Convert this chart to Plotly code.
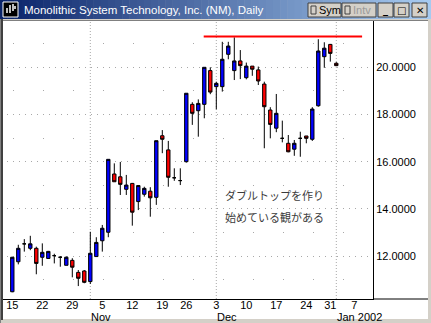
import plotly.graph_objects as go

# ---------------- data (Monolithic System Technology, daily, Oct 15 2001 - Jan 2 2002)
opens  = [10.49, 11.76, 12.52, 12.33, 12.33, 11.95, 11.90, 12.02, 11.95, 11.61,
          11.82, 11.31, 11.37, 10.92, 11.98, 12.65, 13.01, 15.48, 15.36, 14.83,
          15.08, 14.31, 14.62, 14.75, 14.49, 17.10, 16.50, 15.32, 15.20, 16.00,
          18.43, 18.16, 18.43, 19.86, 19.18, 19.18, 20.55, 19.86, 20.27, 19.56,
          20.05, 19.89, 19.29, 18.19, 17.42, 16.99, 16.78, 16.53, 16.99, 17.09,
          16.95, 18.37, 20.45, 20.97, 20.17]
highs  = [11.97, 12.48, 12.72, 12.86, 12.40, 12.54, 12.22, 12.10, 12.00, 11.99,
          11.91, 11.41, 11.41, 13.03, 12.80, 13.32, 16.10, 15.93, 15.99, 15.44,
          15.10, 15.00, 14.94, 14.92, 16.89, 17.34, 16.88, 15.72, 15.72, 18.90,
          18.52, 18.64, 20.00, 20.00, 19.39, 21.08, 21.08, 21.27, 20.73, 20.20,
          20.05, 20.03, 19.39, 18.31, 18.87, 17.74, 17.13, 16.92, 17.27, 17.09,
          18.31, 21.19, 21.06, 20.99, 20.22]
lows   = [10.47, 11.65, 12.19, 12.25, 11.23, 11.59, 11.88, 11.69, 11.55, 11.61,
          11.10, 10.73, 10.85, 10.82, 11.98, 12.19, 12.80, 15.15, 14.59, 14.59,
          13.29, 13.95, 14.52, 13.67, 14.17, 16.36, 14.94, 15.19, 15.01, 15.96,
          17.56, 17.06, 17.84, 18.86, 18.22, 18.97, 20.34, 19.46, 19.50, 19.49,
          19.64, 19.25, 16.57, 16.99, 17.25, 16.82, 16.40, 16.25, 16.21, 16.78,
          16.88, 18.33, 19.98, 20.24, 20.05]
closes = [11.95, 12.33, 12.52, 12.52, 11.69, 12.16, 12.20, 12.02, 11.95, 11.95,
          11.53, 11.06, 10.89, 12.12, 12.58, 13.18, 16.10, 15.15, 15.04, 15.01,
          13.86, 14.99, 14.87, 14.47, 16.89, 16.95, 15.34, 15.32, 15.20, 18.90,
          18.05, 18.47, 20.00, 18.95, 19.32, 20.34, 20.90, 20.27, 20.07, 20.05,
          19.92, 19.42, 18.33, 17.58, 18.05, 16.99, 16.42, 16.78, 16.99, 16.99,
          18.23, 20.69, 20.81, 20.59, 20.07]
x_idx = list(range(len(opens)))          # trading-day index

tick_index = [0, 5, 10, 15, 20, 25, 29, 34, 39, 44, 49, 53, 57]
tick_text  = ["15", "22", "29", "5", "12", "19", "26", "3", "10", "17", "24", "31", "7"]
month_index = [13, 34, 54]
month_text  = ["Nov", "Dec", "Jan 2002"]
price_ticks = [12, 14, 16, 18, 20]

resistance_level = 21.30
resistance_from, resistance_to = 31.9, 58.3
note_lines = ["ダブルトップを作り", "始めている観がある"]
title_text = "Monolithic System Technology, Inc. (NM), Daily"

# ---------------- geometry helpers (pixels -> paper)
W, H = 431, 323
PL, PR, PT, PB = 3, 373, 21, 299
def px(x): return (x - PL) / (PR - PL)
def py(y): return (PB - y) / (PB - PT)

fig = go.Figure()
fig.add_trace(go.Candlestick(
    x=x_idx, open=opens, high=highs, low=lows, close=closes,
    increasing=dict(fillcolor="#0000FF", line=dict(color="black", width=1)),
    decreasing=dict(fillcolor="#FF0000", line=dict(color="black", width=1)),
    whiskerwidth=0, hoverinfo="skip", showlegend=False))

shapes = []
# window frame: white client area
shapes.append(dict(type="rect", xref="paper", yref="paper", x0=px(3), x1=px(428),
                   y0=py(319), y1=py(20), fillcolor="white", line_width=0, layer="below"))
# left dark border
shapes.append(dict(type="rect", xref="paper", yref="paper", x0=px(0), x1=px(1),
                   y0=py(323), y1=py(19), fillcolor="#808080", line_width=0, layer="below"))
shapes.append(dict(type="rect", xref="paper", yref="paper", x0=px(1), x1=px(3),
                   y0=py(320), y1=py(19), fillcolor="#404040", line_width=0, layer="below"))
# top border of chart area
shapes.append(dict(type="line", xref="paper", yref="paper", x0=px(3), x1=px(428),
                   y0=py(20.5), y1=py(20.5), line=dict(color="#808080", width=1)))
# title-bar gradient
n = 60
c0, c1 = (10, 36, 106), (166, 202, 240)
for i in range(n):
    t = i / (n - 1)
    col = "rgb(%d,%d,%d)" % tuple(round(a + (b - a) * t) for a, b in zip(c0, c1))
    shapes.append(dict(type="rect", xref="paper", yref="paper",
                       x0=px(W * i / n), x1=px(W * (i + 1) / n + 0.5),
                       y0=py(19), y1=py(0), fillcolor=col, line_width=0))
# icon
shapes.append(dict(type="rect", xref="paper", yref="paper", x0=px(3), x1=px(18),
                   y0=py(17), y1=py(2), fillcolor="black", line=dict(color="white", width=1)))
for xx, yy0, yy1 in [(7, 13, 8), (10, 13, 5), (13, 11, 4), (15, 9, 6)]:
    shapes.append(dict(type="line", xref="paper", yref="paper", x0=px(xx), x1=px(xx),
                       y0=py(yy0), y1=py(yy1), line=dict(color="white", width=1.5)))
# buttons
buttons = [(308, 341), (342, 376), (378, 393), (394, 409), (412, 427)]
for b0, b1 in buttons:
    shapes.append(dict(type="rect", xref="paper", yref="paper", x0=px(b0), x1=px(b1),
                       y0=py(17), y1=py(3), fillcolor="#D4D0C8",
                       line=dict(color="#404040", width=1)))
for b0 in (310, 344):
    shapes.append(dict(type="rect", xref="paper", yref="paper", x0=px(b0 + 1), x1=px(b0 + 6),
                       y0=py(14), y1=py(6), fillcolor="#D4D0C8",
                       line=dict(color="#404040", width=1)))
# month separator lines
for mi in month_index:
    shapes.append(dict(type="line", xref="x", yref="paper", x0=mi, x1=mi, y0=0, y1=1,
                       line=dict(color="#A8A8A8", width=1, dash="1px,2px"), layer="below"))
# bottom axis line extension into label area
shapes.append(dict(type="line", xref="paper", yref="paper", x0=px(PR), x1=px(428),
                   y0=0, y1=0, line=dict(color="black", width=1)))
# resistance line
shapes.append(dict(type="line", xref="x", yref="y", x0=resistance_from, x1=resistance_to,
                   y0=resistance_level, y1=resistance_level, line=dict(color="#FF0000", width=2)))

ann = []
ann.append(dict(xref="paper", yref="paper", x=px(22), y=py(10), text=title_text,
                showarrow=False, xanchor="left", yanchor="middle",
                font=dict(family="Liberation Sans", size=11.5, color="white")))
ann.append(dict(xref="paper", yref="paper", x=px(317), y=py(10), text="Sym",
                showarrow=False, xanchor="left", yanchor="middle",
                font=dict(family="Liberation Sans", size=11, color="black")))
ann.append(dict(xref="paper", yref="paper", x=px(351), y=py(10), text="Intv",
                showarrow=False, xanchor="left", yanchor="middle",
                font=dict(family="Liberation Sans", size=11, color="#9A9A9A")))
for cx, s in [(385.5, "_"), (401.5, "□"), (419.5, "✕")]:
    ann.append(dict(xref="paper", yref="paper", x=px(cx), y=py(10), text="<b>%s</b>" % s,
                    showarrow=False, xanchor="center", yanchor="middle",
                    font=dict(family="DejaVu Sans", size=10, color="black")))
for mi, mt in zip(month_index, month_text):
    ann.append(dict(xref="x", yref="paper", x=mi - 0.2, y=py(316.5), text=mt, showarrow=False,
                    xanchor="left", yanchor="middle",
                    font=dict(family="Liberation Sans", size=11, color="black")))
for k, line in enumerate(note_lines):
    ann.append(dict(xref="x", yref="y", x=35.1, y=14.59 - 0.93 * k, text=line,
                    showarrow=False, xanchor="left", yanchor="middle",
                    font=dict(family="Noto Sans CJK JP", size=11, color="#3C3C3C")))

fig.update_layout(
    width=W, height=H, margin=dict(l=PL, r=W - PR, t=PT, b=H - PB, pad=0),
    paper_bgcolor="#D4D0C8", plot_bgcolor="white",
    shapes=shapes, annotations=ann, boxgap=0.2, showlegend=False,
    font=dict(family="Liberation Sans", size=11, color="black"),
    xaxis=dict(range=[(PL - 12.3) / 6, (PR - 12.3) / 6], tickmode="array",
               tickvals=tick_index, ticktext=tick_text, showgrid=False, zeroline=False,
               showline=True, linecolor="black", linewidth=1, ticks="",
               ticklabelstandoff=-4,
               rangeslider=dict(visible=False), fixedrange=True),
    yaxis=dict(side="right", range=[20 - (PB - 67.3) / 23.6, 20 + (67.3 - PT) / 23.6],
               tickmode="array", tickvals=price_ticks, tickformat=".4f",
               showline=True, linecolor="black", linewidth=1, ticks="", zeroline=False,
               showgrid=True, gridcolor="#A8A8A8", gridwidth=1, griddash="0px,3.7px,1px,1.3px",
               minor=dict(dtick=1, tick0=0, showgrid=True, gridcolor="#A8A8A8",
                          griddash="0px,9.7px,1px,19.3px", gridwidth=1),
               fixedrange=True),
)

fig.write_html("out.html")
